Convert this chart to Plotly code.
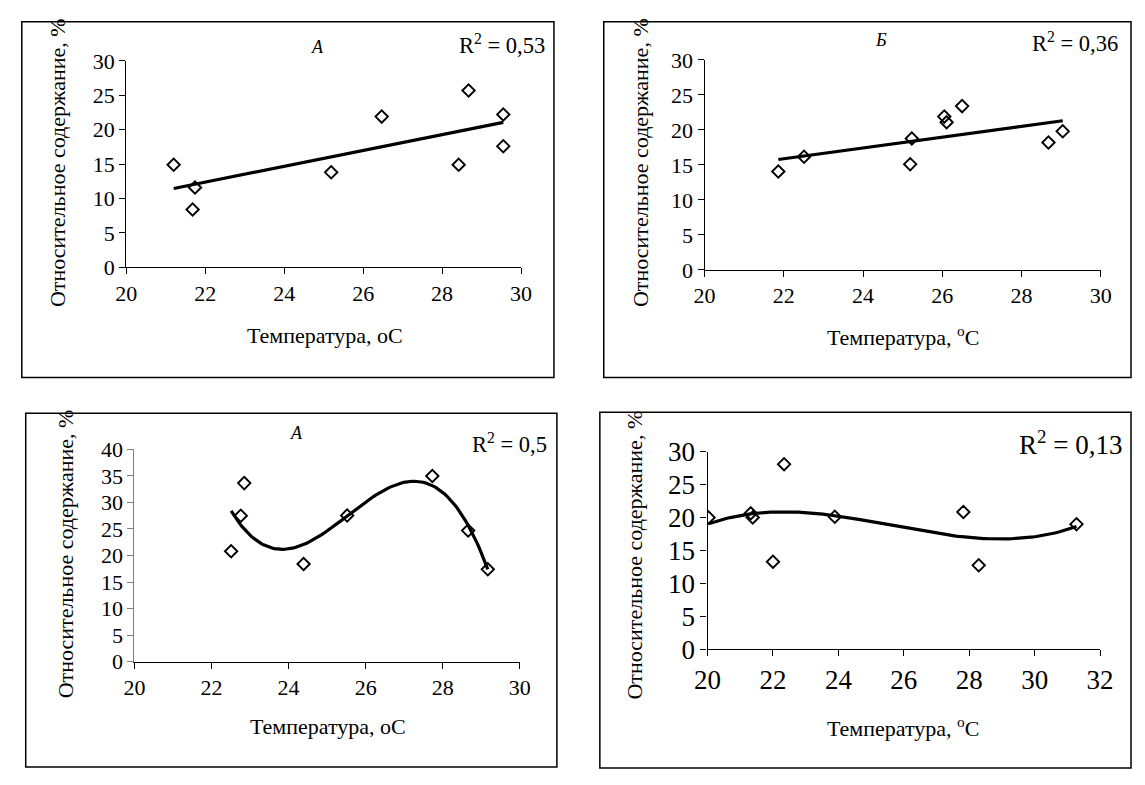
import numpy as np
import plotly.graph_objects as go

W, H = 1145, 785

# ---------------- data ----------------
temp_a1 = [21.2, 21.74, 21.68, 25.19, 26.47, 28.42, 28.67, 29.55, 29.55]
cont_a1 = [14.9, 11.6, 8.4, 13.8, 21.9, 14.9, 25.7, 22.2, 17.6]

temp_b1 = [21.86, 22.51, 25.23, 25.19, 26.05, 26.11, 26.5, 28.68, 29.04]
cont_b1 = [14.06, 16.16, 18.77, 15.1, 21.9, 21.1, 23.4, 18.2, 19.8]

temp_a2 = [22.51, 22.76, 22.85, 24.39, 25.52, 27.73, 28.66, 29.17]
cont_a2 = [20.8, 27.5, 33.65, 18.4, 27.55, 35.0, 24.7, 17.4]

temp_b2 = [20.03, 21.32, 21.38, 22.0, 22.34, 23.89, 27.82, 28.29, 31.28]
cont_b2 = [20.0, 20.63, 20.0, 13.27, 28.1, 20.1, 20.83, 12.73, 18.98]

x_ticks_30 = [20, 22, 24, 26, 28, 30]
x_ticks_32 = [20, 22, 24, 26, 28, 30, 32]
y_ticks_30 = [0, 5, 10, 15, 20, 25, 30]
y_ticks_40 = [0, 5, 10, 15, 20, 25, 30, 35, 40]

titles = ["А", "Б", "А", ""]
r2_labels = ["R<sup>2</sup> = 0,53", "R<sup>2</sup> = 0,36", "R<sup>2</sup> = 0,5", "R<sup>2</sup> = 0,13"]
x_titles = ["Температура, оС", "Температура, <sup>о</sup>С", "Температура, оС", "Температура, <sup>о</sup>С"]
y_title = "Относительное содержание, %"

FONT = "Liberation Serif"

def px(x):
    return x / W

def py(y):
    return 1 - y / H

panels = [
    dict(x=temp_a1, y=cont_a1, deg=1, xr=[20, 30], xt=x_ticks_30, yr=[0, 30], yt=y_ticks_30,
         dx=(115, 519.3), dy=(47.7, 262.3), box=(8, 7, 553, 377), tick=22,
         t=(311, 33), r2=(546, 30), r2s=22.5, xl=(318, 333), yl=(44, 153), ycol="black"),
    dict(x=temp_b1, y=cont_b1, deg=1, xr=[20, 30], xt=x_ticks_30, yr=[0, 30], yt=y_ticks_30,
         dx=(707.3, 1113), dy=(46.7, 265), box=(604, 7, 1144, 377), tick=22,
         t=(888, 26), r2=(1133, 28), r2s=22.5, xl=(911, 334), yl=(641, 153), ycol="black"),
    dict(x=temp_a2, y=cont_a2, deg=3, xr=[20, 30], xt=x_ticks_30, yr=[0, 40], yt=y_ticks_40,
         dx=(123.3, 518), dy=(451.7, 672.3), box=(12, 414, 556, 782), tick=22,
         t=(289, 435), r2=(548, 445), r2s=22.5, xl=(322, 740), yl=(53, 560), ycol="#808080"),
    dict(x=temp_b2, y=cont_b2, deg=3, xr=[20, 32], xt=x_ticks_32, yr=[0, 30], yt=y_ticks_30,
         dx=(710.3, 1112.3), dy=(454, 659.3), box=(600, 413, 1144, 783), tick=27,
         t=(890, 435), r2=(1137, 445), r2s=27, xl=(911, 740), yl=(635, 562), ycol="black"),
]

fig = go.Figure()
shapes = []
annotations = []
layout_axes = {}

for i, p in enumerate(panels):
    n = i + 1
    xa = "x" if n == 1 else f"x{n}"
    ya = "y" if n == 1 else f"y{n}"
    xkey = "xaxis" if n == 1 else f"xaxis{n}"
    ykey = "yaxis" if n == 1 else f"yaxis{n}"

    # trend line fitted from the points (as the spreadsheet trendline does)
    coef = np.polyfit(p["x"], p["y"], p["deg"])
    tx = np.linspace(min(p["x"]), max(p["x"]), 120)
    ty = np.polyval(coef, tx)
    fig.add_trace(go.Scatter(x=tx, y=ty, mode="lines", xaxis=xa, yaxis=ya,
                             line=dict(color="black", width=3.2), hoverinfo="skip",
                             showlegend=False))
    fig.add_trace(go.Scatter(x=p["x"], y=p["y"], mode="markers", xaxis=xa, yaxis=ya,
                             marker=dict(symbol="diamond-open", size=9.5, color="black",
                                         line=dict(color="black", width=1.9)),
                             showlegend=False))

    layout_axes[xkey] = dict(domain=[px(p["dx"][0]), px(p["dx"][1])], range=p["xr"],
                             tickvals=p["xt"], ticks="outside", ticklen=6, tickcolor="black",
                             showline=True, linecolor="black", linewidth=1, showgrid=False,
                             zeroline=False, anchor=ya,
                             tickfont=dict(family=FONT, size=p["tick"], color="black"))
    layout_axes[ykey] = dict(domain=[py(p["dy"][1]), py(p["dy"][0])], range=p["yr"],
                             tickvals=p["yt"], ticks="outside", ticklen=6, tickcolor=p["ycol"],
                             showline=True, linecolor=p["ycol"], linewidth=1.2, showgrid=False,
                             zeroline=False, anchor=xa,
                             tickfont=dict(family=FONT, size=p["tick"], color="black"))

    bx = p["box"]
    shapes.append(dict(type="rect", xref="paper", yref="paper",
                       x0=px(bx[0]), x1=px(bx[2]), y0=py(bx[3]), y1=py(bx[1]),
                       line=dict(color="black", width=1.5)))

    if titles[i]:
        annotations.append(dict(xref="paper", yref="paper", x=px(p["t"][0]), y=py(p["t"][1]),
                                text=f"<i>{titles[i]}</i>", showarrow=False,
                                xanchor="center", yanchor="middle",
                                font=dict(family=FONT, size=18, color="black")))
    annotations.append(dict(xref="paper", yref="paper", x=px(p["r2"][0]), y=py(p["r2"][1]),
                            text=r2_labels[i], showarrow=False, xanchor="right", yanchor="middle",
                            font=dict(family=FONT, size=p["r2s"], color="black")))
    annotations.append(dict(xref="paper", yref="paper", x=px(p["xl"][0]), y=py(p["xl"][1]),
                            text=x_titles[i], showarrow=False, xanchor="center", yanchor="middle",
                            font=dict(family=FONT, size=22, color="black")))
    annotations.append(dict(xref="paper", yref="paper", x=px(p["yl"][0]), y=py(p["yl"][1]),
                            text=y_title, showarrow=False, textangle=-90,
                            xanchor="center", yanchor="middle",
                            font=dict(family=FONT, size=22, color="black")))

fig.update_layout(width=W, height=H, autosize=False,
                  margin=dict(l=0, r=0, t=0, b=0, pad=0),
                  paper_bgcolor="white", plot_bgcolor="white",
                  shapes=shapes, annotations=annotations, showlegend=False,
                  **layout_axes)

post = ("document.documentElement.style.margin='0';document.documentElement.style.padding='0';"
        "document.body.style.margin='0';document.body.style.padding='0';"
        "document.body.style.overflow='hidden';document.documentElement.style.overflow='hidden';"
        "var d=document.getElementById('{plot_id}');d.style.position='fixed';"
        "d.style.left='0px';d.style.top='0px';")
fig.write_html("out.html", config={"displayModeBar": False}, post_script=post)
